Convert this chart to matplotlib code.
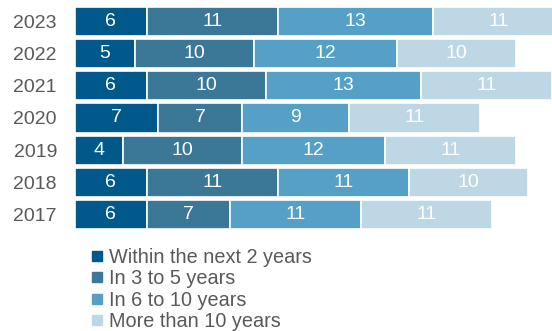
import matplotlib
matplotlib.use("Agg")
import matplotlib.pyplot as plt
from matplotlib.lines import Line2D
import numpy as np

plt.rcParams['font.family'] = ['Liberation Sans', 'DejaVu Sans']

years = ['2017', '2018', '2019', '2020', '2021', '2022', '2023']
within_2 = [6, 6, 4, 7, 6, 5, 6]
in_3_5 = [7, 11, 10, 7, 10, 10, 11]
in_6_10 = [11, 11, 12, 9, 13, 12, 13]
more_10 = [11, 10, 11, 11, 11, 10, 11]

series = [within_2, in_3_5, in_6_10, more_10]
names = ['Within the next 2 years', 'In 3 to 5 years', 'In 6 to 10 years', 'More than 10 years']
colors = ['#00598A', '#3B7797', '#55A0C7', '#BDD7E4']

fig = plt.figure(figsize=(5.52, 3.31), dpi=100)
ax = fig.add_axes([75 / 552, 1 - 231 / 331, 477 / 552, 226 / 331])

y = np.arange(len(years))
left = np.zeros(len(years))
for vals, name, c in zip(series, names, colors):
    vals = np.array(vals)
    ax.barh(y, vals, left=left, height=0.9, color=c, edgecolor='white', linewidth=1.2, label=name)
    for yi, l, v in zip(y, left, vals):
        ax.text(l + v / 2, yi, str(v), ha='center', va='center', color='white', fontsize=14)
    left += vals

ax.set_xlim(0, 40)
ax.set_ylim(-0.5, len(years) - 0.5)
ax.set_yticks(y)
ax.set_yticklabels(years, fontsize=14, color='#595959')
ax.tick_params(axis='y', length=0, pad=13)
ax.set_xticks([])
for s in ax.spines.values():
    s.set_visible(False)

handles = [Line2D([], [], marker='s', linestyle='none', markersize=6.5, color=c) for c in colors]
fig.legend(handles, names, loc='upper left', bbox_to_anchor=(91 / 552, 1 - 248 / 331),
           frameon=False, fontsize=14.3, labelcolor='#595959', handlelength=0.6,
           handletextpad=0.3, labelspacing=0.12, borderpad=0, borderaxespad=0)

fig.savefig('out.png', dpi=100)
